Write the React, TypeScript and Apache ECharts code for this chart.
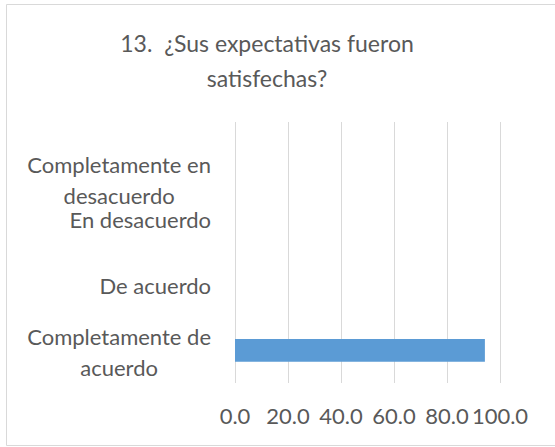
import React, { useEffect, useRef } from "react";
import * as echarts from "echarts";

const titleLines = ["13.  ¿Sus expectativas fueron", "satisfechas?"];
const categories = [
  "Completamente de\nacuerdo",
  "De acuerdo",
  "En desacuerdo",
  "Completamente en\ndesacuerdo",
];
const values = [94.3, 0, 0, 0];
const xMin = 0;
const xMax = 100;
const xStep = 20;

const FONT = "Lato, 'Open Sans', sans-serif";
const TEXT = "#595959";

export default function App() {
  const ref = useRef<HTMLDivElement>(null);
  useEffect(() => {
    if (!ref.current) return;
    const chart = echarts.init(ref.current, undefined, { renderer: "svg" });
    const yData = categories.map((c, i) => {
      if (i === categories.length - 1) {
        return { value: c, textStyle: { padding: [42, 0, 0, 0] } };
      }
      if (i === 0) {
        return { value: c, textStyle: { padding: [0, 0, 6, 0] } };
      }
      return { value: c };
    });
    const base = { align: "center", fontFamily: FONT, fontSize: 22, color: TEXT };
    chart.setOption({
      animation: false,
      backgroundColor: "#ffffff",
      title: {
        text: titleLines.join("\n"),
        left: 262,
        top: 20,
        textAlign: "center",
        textStyle: {
          fontFamily: FONT,
          fontSize: 23,
          fontWeight: "normal",
          color: TEXT,
          lineHeight: 35,
        },
      },
      grid: { left: 235, right: 55, top: 122, bottom: 64, containLabel: false },
      xAxis: {
        type: "value",
        min: xMin,
        max: xMax,
        interval: xStep,
        axisLine: { show: false },
        axisTick: { show: false },
        splitLine: { lineStyle: { color: "#d9d9d9", width: 1 } },
        axisLabel: {
          formatter: (v: number) => v.toFixed(1),
          fontFamily: FONT,
          fontSize: 22,
          color: TEXT,
          margin: 21,
        },
      },
      yAxis: {
        type: "category",
        data: yData,
        axisLine: { show: false },
        axisTick: { show: false },
        splitLine: { show: false },
        axisLabel: {
          interval: 0,
          fontFamily: FONT,
          fontSize: 22,
          color: TEXT,
          margin: 24,
          formatter: (v: string) => {
            const lines = v.split("\n");
            if (lines.length === 1) return `{s|${lines[0]}}`;
            return `{a|${lines[0]}}\n{b|${lines[1]}}`;
          },
          rich: {
            a: { ...base, lineHeight: 40 },
            b: { ...base, lineHeight: 22 },
            s: { ...base, lineHeight: 22 },
          },
        },
      },
      series: [
        {
          type: "bar",
          data: values,
          barWidth: "35%",
          itemStyle: { color: "#5b9bd5" },
          silent: true,
        },
      ],
      graphic: [
        {
          type: "polyline",
          shape: { points: [[600, 4.5], [6.5, 4.5], [6.5, 445.5], [600, 445.5]] },
          style: { stroke: "#d9d9d9", lineWidth: 1, fill: null },
          silent: true,
        },
      ],
    });
    return () => chart.dispose();
  }, []);
  return (
    <div
      ref={ref}
      style={{ position: "fixed", left: 0, top: 0, width: 555, height: 447 }}
    />
  );
}
